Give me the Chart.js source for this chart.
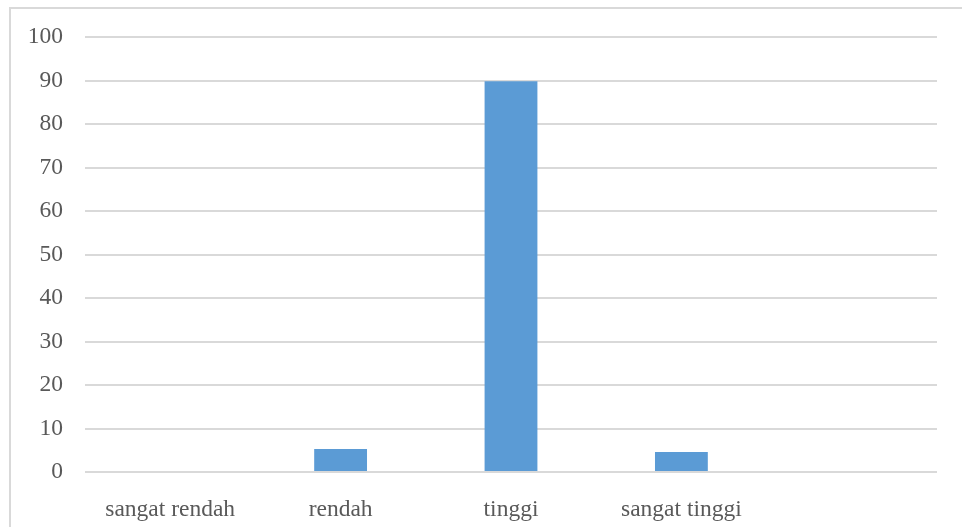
<!DOCTYPE html>
<html>
<head>
<meta charset="utf-8">
<script src="https://cdn.jsdelivr.net/npm/chart.js@4"></script>
<style>
  html, body { margin: 0; padding: 0; background: #fff; }
  #wrap { position: relative; width: 962px; height: 527px; }
  #frame { position: absolute; left: 9px; top: 7px; right: -5px; bottom: -5px; border: 2px solid #d9d9d9; pointer-events: none; }
</style>
</head>
<body>
<div id="wrap">
  <canvas id="chart" width="962" height="527"></canvas>
  <div id="frame"></div>
</div>
<script>
// categories on the x axis (last slot is empty in the original)
const categories = ['sangat rendah', 'rendah', 'tinggi', 'sangat tinggi', ''];
const values = [0, 5.3, 89.8, 4.6, null];
const yTicks = [0, 10, 20, 30, 40, 50, 60, 70, 80, 90, 100];

const textColor = '#595959';
const gridColor = '#d9d9d9';
const barColor = '#5b9bd5';
const font = { family: '"Liberation Serif", "Times New Roman", serif', size: 23.5 };

new Chart(document.getElementById('chart'), {
  type: 'bar',
  data: {
    labels: categories,
    datasets: [{ data: values, backgroundColor: barColor, barPercentage: 0.31, categoryPercentage: 1 }],
  },
  options: {
    responsive: false, animation: false,
    layout: { padding: { top: 37, right: 25, left: 0, bottom: 0 } },
    plugins: { legend: { display: false }, tooltip: { enabled: false } },
    scales: {
      x: {
        grid: { display: false }, border: { display: false },
        ticks: { color: textColor, font, padding: 16, maxRotation: 0 },
        afterFit: (s) => { s.height = 55; },
      },
      y: {
        min: 0, max: 100,
        afterBuildTicks: (s) => { s.ticks = yTicks.map((v) => ({ value: v })); },
        grid: { color: gridColor, lineWidth: 2, drawTicks: false }, border: { display: false },
        ticks: { color: textColor, font, padding: 22 },
        afterFit: (s) => { s.width = 85; },
      },
    },
  },
});
</script>
</body>
</html>
